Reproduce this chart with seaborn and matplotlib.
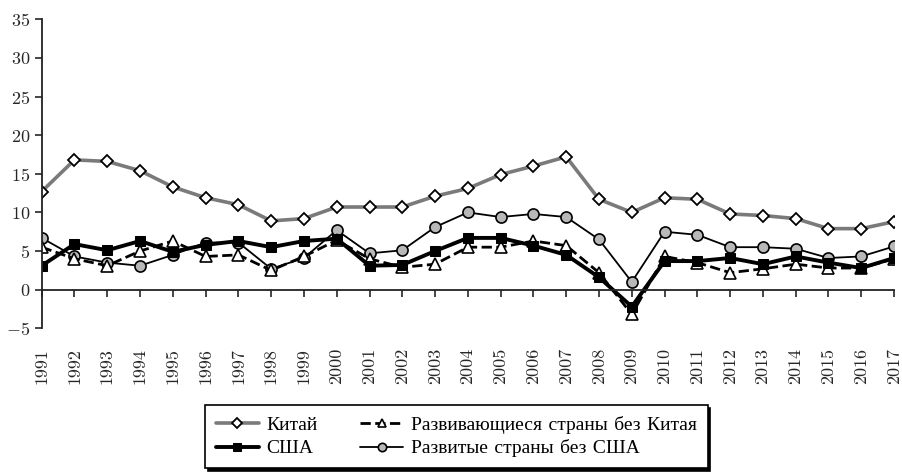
"""GDP growth comparison: China, USA, developing and developed countries"""

import matplotlib
matplotlib.use('Agg')
import matplotlib.pyplot as plt
import seaborn as sns
import pandas as pd
import numpy as np


years = list(range(1991, 2018))

china = [12.7, 16.8, 16.6, 15.4, 13.3, 11.9, 11.0, 8.9, 9.2, 10.7,
         10.7, 10.7, 12.1, 13.1, 14.9, 16.0, 17.2, 11.7, 10.0, 11.9,
         11.7, 9.8, 9.6, 9.2, 7.9, 7.9, 8.8]

usa = [3.1, 5.9, 5.1, 6.3, 4.9, 5.8, 6.3, 5.5, 6.3, 6.6,
       3.1, 3.2, 5.0, 6.7, 6.7, 5.7, 4.5, 1.6, -2.2, 3.7,
       3.7, 4.1, 3.3, 4.3, 3.5, 2.8, 4.1]

developing = [5.5, 4.0, 3.1, 5.0, 6.3, 4.3, 4.5, 2.5, 4.3, 6.4,
              4.0, 2.9, 3.3, 5.5, 5.5, 6.3, 5.7, 2.2, -3.2, 4.3,
              3.5, 2.2, 2.7, 3.3, 2.8, 2.8, 4.0]

developed = [6.7, 4.3, 3.5, 3.1, 4.5, 6.1, 6.1, 2.7, 4.1, 7.7,
             4.7, 5.1, 8.1, 10.0, 9.4, 9.8, 9.4, 6.5, 1.0, 7.5,
             7.1, 5.5, 5.5, 5.3, 4.1, 4.3, 5.6]

labels = ['Китай', 'США', 'Развивающиеся страны без Китая', 'Развитые страны без США']


df = pd.DataFrame({'year': years * 4,
                   'value': china + usa + developing + developed,
                   'series': np.repeat(labels, len(years))})

sns.set_style('ticks')
plt.rcParams['font.family'] = ['cmr10', 'Liberation Serif']
plt.rcParams['axes.formatter.use_mathtext'] = True
plt.rcParams['text.color'] = 'black'

fig = plt.figure(figsize=(9.02, 4.76), dpi=100)
ax = fig.add_axes([0.0462, 0.3103, 0.9450, 0.6492])

# series styles
styles = {
    'Китай': dict(color='#7a7a7a', linewidth=2.6, marker='D', markerfacecolor='white',
                  markeredgecolor='black', markeredgewidth=1.3, markersize=6.5),
    'США': dict(color='black', linewidth=2.8, marker='s', markerfacecolor='black',
                markeredgecolor='black', markersize=7),
    'Развивающиеся страны без Китая': dict(color='black', linewidth=2.0, linestyle='--',
                                          marker='^', markerfacecolor='white',
                                          markeredgecolor='black', markeredgewidth=1.2,
                                          markersize=8),
    'Развитые страны без США': dict(color='black', linewidth=1.3, marker='o',
                                    markerfacecolor='#b8b8b8', markeredgecolor='black',
                                    markeredgewidth=1.2, markersize=8),
}

for name in ['Развитые страны без США', 'Развивающиеся страны без Китая', 'США', 'Китай']:
    sub = df[df['series'] == name]
    sns.lineplot(data=sub, x='year', y='value', ax=ax, label=name, **styles[name])

ax.set_xlim(1991, 2017)
ax.set_ylim(-5, 35)
ax.set_yticks(np.arange(-5, 36, 5))
ax.set_xticks(years)
ax.set_xticklabels([str(y) for y in years])
ax.set_xlabel('')
ax.set_ylabel('')

ax.spines['top'].set_visible(False)
ax.spines['right'].set_visible(False)
ax.spines['bottom'].set_position(('data', 0))
for side in ['left', 'bottom']:
    ax.spines[side].set_color('#222222')
    ax.spines[side].set_linewidth(1.3)

ax.tick_params(axis='y', labelsize=13, length=5, width=1.2, pad=3)
ax.tick_params(axis='x', labelsize=13, length=5, width=1.2, pad=37, labelrotation=90)

# legend in the order of the reference (two columns)
handles, lbls = ax.get_legend_handles_labels()
order = [lbls.index(l) for l in labels]
ax.get_legend().remove()
leg = fig.legend([handles[i] for i in order], labels, loc='center',
                 bbox_to_anchor=(0.506, 0.083), ncol=2, fontsize=14,
                 frameon=True, fancybox=False, shadow={'color': 'black', 'alpha': 1},
                 edgecolor='black', handlelength=2.2, markerscale=0.75,
                 columnspacing=2.2, labelspacing=0.3, borderpad=0.55,
                 handletextpad=0.4)
leg.get_frame().set_linewidth(1.2)

fig.savefig('out.png', dpi=100)
